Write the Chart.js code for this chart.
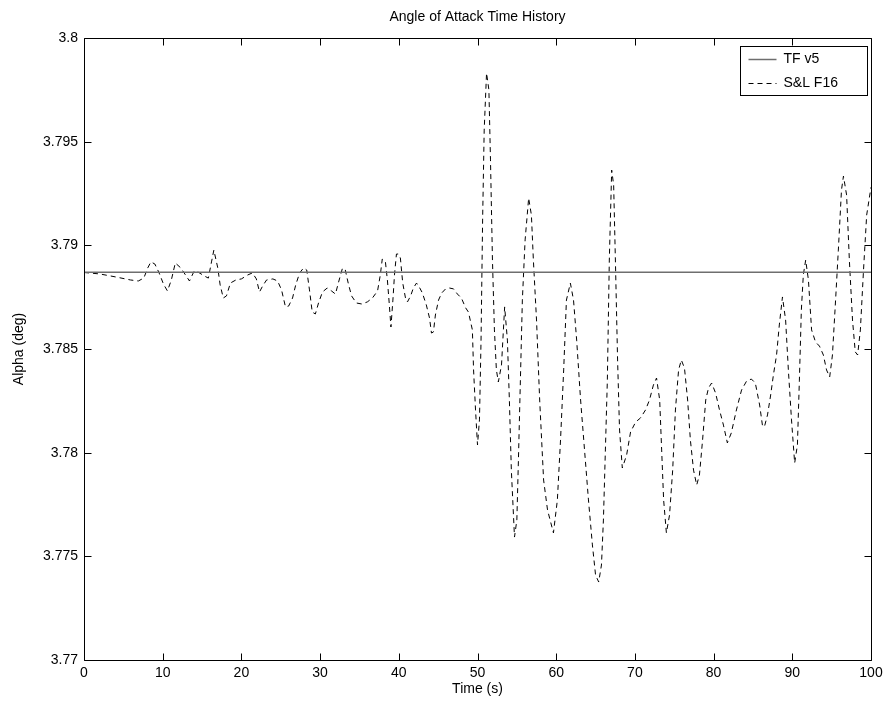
<!DOCTYPE html>
<html>
<head>
<meta charset="utf-8">
<title>Angle of Attack Time History</title>
<script src="https://cdn.jsdelivr.net/npm/chart.js@4.4.1/dist/chart.umd.min.js"></script>
<style>
  html, body { margin: 0; padding: 0; background: #fff; }
  #wrap { width: 890px; height: 707px; }
</style>
</head>
<body>
<div id="wrap"><canvas id="aoa" width="890" height="707"></canvas></div>
<script>
// Time axis samples (s) for the S&L F16 run
const timeS = [
  0, 2.0, 4.1, 5.9, 6.9, 7.6, 8.1, 8.5, 9.0, 9.5,
  10.1, 10.6, 11.1, 11.6, 12.3, 12.9, 13.4, 14.0, 14.5, 15.3,
  15.8, 16.2, 16.5, 17.0, 17.3, 17.7, 18.1, 18.6, 19.3, 20.0,
  20.8, 21.4, 21.9, 22.3, 22.7, 23.2, 24.0, 24.6, 25.1, 25.6,
  26.0, 26.5, 26.9, 27.4, 27.9, 28.3, 28.65, 29.0, 29.4, 29.8,
  30.3, 30.9, 31.45, 31.95, 32.35, 32.85, 33.2, 33.6, 34.0, 34.6,
  35.3, 36.0, 36.65, 37.3, 37.65, 37.9, 38.3, 38.55, 38.8, 39.0,
  39.25, 39.45, 39.7, 39.95, 40.2, 40.5, 40.85, 41.1, 41.5, 41.85,
  42.25, 42.6, 43.0, 43.5, 43.9, 44.15, 44.4, 44.65, 45.05, 45.45,
  45.95, 46.45, 46.95, 47.45, 47.95, 48.5, 48.85, 49.35, 49.5, 49.75,
  50.0, 50.25, 50.45, 50.65, 50.85, 51.15, 51.45, 51.65, 51.9, 52.15,
  52.4, 52.65, 53.05, 53.45, 53.8, 54.05, 54.3, 54.7, 55.0, 55.2,
  55.45, 55.7, 56.05, 56.5, 56.85, 57.1, 57.5, 57.9, 58.4, 58.9,
  59.65, 60.15, 60.55, 60.95, 61.3, 61.8, 62.2, 62.6, 63.1, 63.6,
  64.1, 64.6, 65.0, 65.4, 65.75, 66.0, 66.25, 66.5, 66.75, 67.05,
  67.3, 67.55, 67.8, 68.05, 68.4, 68.95, 69.45, 70.1, 70.7, 71.35,
  71.85, 72.35, 72.75, 73.15, 73.4, 73.65, 74.0, 74.4, 74.8, 75.15,
  75.55, 75.9, 76.3, 76.7, 77.05, 77.45, 77.85, 78.2, 78.6, 79.0,
  79.35, 79.75, 80.25, 80.75, 81.25, 81.75, 82.25, 82.9, 83.55, 84.2,
  84.8, 85.3, 85.85, 86.2, 86.45, 86.85, 87.25, 87.6, 88.0, 88.35,
  88.75, 89.15, 89.5, 89.9, 90.3, 90.65, 90.9, 91.15, 91.4, 91.7,
  92.05, 92.45, 92.95, 93.45, 93.95, 94.35, 94.75, 95.1, 95.5, 95.85,
  96.25, 96.5, 96.9, 97.25, 97.65, 98.0, 98.3, 98.65, 99.05, 99.45,
  100.0
];

// Angle of attack (deg), S&L F16 model
const alphaSL = [
  3.78869, 3.78862, 3.78847, 3.78833, 3.78828, 3.78842, 3.78891, 3.78920, 3.78910, 3.78871,
  3.78813, 3.78780, 3.78833, 3.78915, 3.78891, 3.78857, 3.78828, 3.78876, 3.78871, 3.78852,
  3.78842, 3.78920, 3.78977, 3.78891, 3.78809, 3.78746, 3.78756, 3.78818, 3.78833, 3.78838,
  3.78857, 3.78867, 3.78838, 3.78775, 3.78804, 3.78833, 3.78838, 3.78828, 3.78785, 3.78703,
  3.78707, 3.78746, 3.78809, 3.78867, 3.78891, 3.78881, 3.78785, 3.78678, 3.78669, 3.78722,
  3.78775, 3.78794, 3.78780, 3.78765, 3.78823, 3.78891, 3.78881, 3.78813, 3.78756, 3.78722,
  3.78717, 3.78727, 3.78746, 3.78780, 3.78857, 3.78934, 3.78920, 3.78833, 3.78712, 3.78606,
  3.78736, 3.78857, 3.78958, 3.78958, 3.78939, 3.78818, 3.78746, 3.78727, 3.78756, 3.78794,
  3.78818, 3.78799, 3.78770, 3.78712, 3.78650, 3.78577, 3.78582, 3.78664, 3.78736, 3.78770,
  3.78790, 3.78794, 3.78790, 3.78765, 3.78746, 3.78698, 3.78678, 3.78592, 3.78399, 3.78206,
  3.78037, 3.78158, 3.78543, 3.79122, 3.79556, 3.79831, 3.79749, 3.79412, 3.78929, 3.78592,
  3.78399, 3.78341, 3.78423, 3.78703, 3.78543, 3.78254, 3.77916, 3.77593, 3.77675, 3.77965,
  3.78350, 3.78736, 3.79026, 3.79228, 3.79146, 3.78929, 3.78640, 3.78254, 3.77868, 3.77723,
  3.77613, 3.77772, 3.78061, 3.78399, 3.78736, 3.78818, 3.78736, 3.78543, 3.78254, 3.78013,
  3.77772, 3.77555, 3.77410, 3.77376, 3.77458, 3.77675, 3.78013, 3.78350, 3.78929, 3.79363,
  3.79291, 3.78881, 3.78447, 3.78109, 3.77926, 3.77989, 3.78100, 3.78148, 3.78167, 3.78206,
  3.78254, 3.78326, 3.78360, 3.78254, 3.78013, 3.77772, 3.77613, 3.77699, 3.77916, 3.78206,
  3.78399, 3.78447, 3.78408, 3.78254, 3.78061, 3.77916, 3.77844, 3.77892, 3.78061, 3.78254,
  3.78312, 3.78336, 3.78288, 3.78206, 3.78133, 3.78047, 3.78095, 3.78206, 3.78302, 3.78346,
  3.78355, 3.78336, 3.78230, 3.78133, 3.78124, 3.78182, 3.78278, 3.78375, 3.78471, 3.78616,
  3.78751, 3.78640, 3.78399, 3.78158, 3.77950, 3.78037, 3.78350, 3.78688, 3.78857, 3.78929,
  3.78833, 3.78592, 3.78534, 3.78514, 3.78471, 3.78399, 3.78365, 3.78471, 3.78736, 3.78977,
  3.79267, 3.79334, 3.79243, 3.78929, 3.78640, 3.78486, 3.78471, 3.78592, 3.78881, 3.79146,
  3.79280
];

// TF v5 model holds a constant trim angle
const timeTF = [0, 100];
const alphaTF = [3.7887, 3.7887];

// Axis ticks
const xTickValues = [0, 10, 20, 30, 40, 50, 60, 70, 80, 90, 100];
const xTickLabels = ['0', '10', '20', '30', '40', '50', '60', '70', '80', '90', '100'];
const yTickValues = [3.77, 3.775, 3.78, 3.785, 3.79, 3.795, 3.8];
const yTickLabels = ['3.77', '3.775', '3.78', '3.785', '3.79', '3.795', '3.8'];

const seriesNames = ['TF v5', 'S&L F16'];
const plotTitle = 'Angle of Attack Time History';

const FONT = "'Liberation Sans', Arial, Helvetica, sans-serif";
const FONT_SIZE = 14;
Chart.defaults.font.family = FONT;
Chart.defaults.font.size = FONT_SIZE;
Chart.defaults.color = '#000';

const toXY = (xs, ys) => xs.map((x, i) => ({ x: x, y: ys[i] }));

// Title centred over the axes box
const axesTitle = {
  id: 'axesTitle',
  afterDraw(chart) {
    const { ctx, chartArea: a } = chart;
    ctx.save();
    ctx.font = FONT_SIZE + 'px ' + FONT;
    ctx.fillStyle = '#000';
    ctx.textAlign = 'center';
    ctx.textBaseline = 'middle';
    ctx.fillText(plotTitle, (a.left + a.right) / 2, a.top - 21);
    ctx.restore();
  }
};

// Box around the axes, with inward tick marks on all four sides
const axesFrame = {
  id: 'axesFrame',
  afterDatasetsDraw(chart) {
    const { ctx, chartArea: a, scales } = chart;
    const L = Math.round(a.left) + 0.5, R = Math.round(a.right) + 0.5;
    const T = Math.round(a.top) + 0.5, B = Math.round(a.bottom) + 0.5;
    const tick = 7;
    ctx.save();
    ctx.strokeStyle = '#000';
    ctx.lineWidth = 1;
    ctx.beginPath();
    ctx.rect(L, T, R - L, B - T);
    xTickValues.forEach(v => {
      const px = Math.round(scales.x.getPixelForValue(v)) + 0.5;
      ctx.moveTo(px, B); ctx.lineTo(px, B - tick);
      ctx.moveTo(px, T); ctx.lineTo(px, T + tick);
    });
    yTickValues.forEach(v => {
      const py = Math.round(scales.y.getPixelForValue(v)) + 0.5;
      ctx.moveTo(L, py); ctx.lineTo(L + tick, py);
      ctx.moveTo(R, py); ctx.lineTo(R - tick, py);
    });
    ctx.stroke();
    ctx.restore();
  }
};

// Boxed legend in the upper right of the axes
const boxLegend = {
  id: 'boxLegend',
  afterDraw(chart) {
    const { ctx, chartArea: a } = chart;
    const right = Math.round(a.right) - 3.5;
    const top = Math.round(a.top) + 8.5;
    const w = 127, rowH = 24, h = 49;
    const left = right - w;
    ctx.save();
    ctx.fillStyle = '#fff';
    ctx.fillRect(left, top, w, h);
    ctx.strokeStyle = '#000';
    ctx.lineWidth = 1;
    ctx.strokeRect(left, top, w, h);
    ctx.font = FONT_SIZE + 'px ' + FONT;
    ctx.textBaseline = 'middle';
    ctx.textAlign = 'left';
    chart.data.datasets.forEach((ds, i) => {
      const cy = Math.round(top + 12 + i * rowH) + 0.5;
      ctx.beginPath();
      ctx.strokeStyle = ds.borderColor;
      ctx.lineWidth = ds.borderWidth;
      ctx.setLineDash(ds.borderDash || []);
      ctx.moveTo(left + 8, cy);
      ctx.lineTo(left + 36, cy);
      ctx.stroke();
      ctx.setLineDash([]);
      ctx.fillStyle = '#000';
      ctx.fillText(ds.label, left + 43, cy);
    });
    ctx.restore();
  }
};

new Chart(document.getElementById('aoa'), {
  type: 'line',
  data: {
    datasets: [
      {
        label: seriesNames[0],
        data: toXY(timeTF, alphaTF),
        borderColor: '#6e6e6e',
        borderWidth: 1.5,
        pointRadius: 0,
        tension: 0
      },
      {
        label: seriesNames[1],
        data: toXY(timeS, alphaSL),
        borderColor: '#000',
        borderWidth: 1,
        borderDash: [5, 4],
        pointRadius: 0,
        tension: 0
      }
    ]
  },
  options: {
    responsive: false,
    animation: false,
    devicePixelRatio: 1,
    layout: { padding: { left: 0, right: 19, top: 38, bottom: 0 } },
    plugins: {
      legend: { display: false },
      tooltip: { enabled: false },
      title: { display: false }
    },
    scales: {
      x: {
        type: 'linear',
        min: 0,
        max: 100,
        grid: { display: false, drawTicks: false },
        border: { display: false },
        afterBuildTicks: s => { s.ticks = xTickValues.map(v => ({ value: v })); },
        afterFit: s => { s.height = 47; },
        ticks: {
          padding: 5,
          maxRotation: 0,
          autoSkip: false,
          callback: (v, i) => xTickLabels[i]
        },
        title: {
          display: true,
          text: 'Time (s)',
          padding: { top: 0, bottom: 9 }
        }
      },
      y: {
        type: 'linear',
        min: 3.77,
        max: 3.8,
        grid: { display: false, drawTicks: false },
        border: { display: false },
        afterBuildTicks: s => { s.ticks = yTickValues.map(v => ({ value: v })); },
        afterFit: s => { s.width = 84; },
        ticks: {
          padding: 6,
          autoSkip: false,
          callback: (v, i) => yTickLabels[i]
        },
        title: {
          display: true,
          text: 'Alpha (deg)',
          padding: { top: 11, bottom: 0 }
        }
      }
    }
  },
  plugins: [axesFrame, boxLegend, axesTitle]
});
</script>
</body>
</html>
